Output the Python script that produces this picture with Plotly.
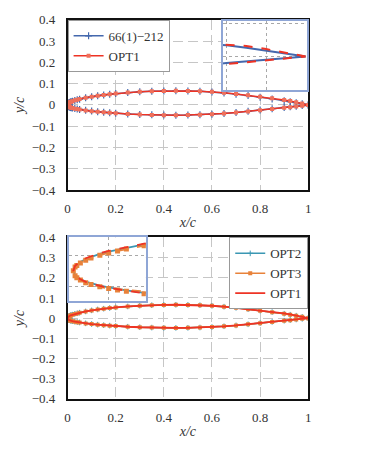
import plotly.graph_objects as go

# chord stations shared by all sections
X = [0, 0.0005, 0.001, 0.002, 0.0035, 0.005, 0.0075, 0.01, 0.0125, 0.015, 0.02,
     0.03, 0.04, 0.05, 0.075, 0.1, 0.125, 0.15, 0.175, 0.2, 0.25, 0.3, 0.35, 0.4,
     0.45, 0.5, 0.55, 0.6, 0.65, 0.7, 0.75, 0.8, 0.85, 0.9, 0.925, 0.95, 0.975, 1.0]

BASE_UP = [0, 0.0029, 0.0040, 0.0057, 0.0076, 0.0090, 0.0109, 0.0124, 0.0137, 0.0150, 0.0172,
           0.0209, 0.0241, 0.0270, 0.0333, 0.0386, 0.0431, 0.0470, 0.0503, 0.0533, 0.0581, 0.0617,
           0.0643, 0.0658, 0.0663, 0.0657, 0.0640, 0.0610, 0.0565, 0.0508, 0.0441, 0.0365, 0.0285,
           0.0200, 0.0155, 0.0107, 0.0056, 0]
BASE_LO = [0, -0.0027, -0.0038, -0.0053, -0.0070, -0.0082, -0.0097, -0.0108, -0.0119, -0.0128, -0.0144,
           -0.0171, -0.0193, -0.0212, -0.0255, -0.0290, -0.0321, -0.0346, -0.0369, -0.0389, -0.0423, -0.0449,
           -0.0467, -0.0478, -0.0481, -0.0477, -0.0462, -0.0436, -0.0400, -0.0356, -0.0300, -0.0240, -0.0178,
           -0.0116, -0.0086, -0.0057, -0.0028, 0]

OPT1_UP = [0, 0.0033, 0.0045, 0.0063, 0.0083, 0.0097, 0.0116, 0.0131, 0.0144, 0.0157, 0.0179,
           0.0215, 0.0246, 0.0274, 0.0336, 0.0388, 0.0432, 0.0471, 0.0504, 0.0534, 0.0582, 0.0618,
           0.0644, 0.0659, 0.0664, 0.0659, 0.0643, 0.0615, 0.0572, 0.0518, 0.0453, 0.0383, 0.0310,
           0.0235, 0.0185, 0.0130, 0.0070, 0]
OPT1_LO = [0, -0.0028, -0.0039, -0.0055, -0.0072, -0.0084, -0.0099, -0.0111, -0.0122, -0.0131, -0.0148,
           -0.0175, -0.0196, -0.0215, -0.0257, -0.0292, -0.0322, -0.0347, -0.0370, -0.0390, -0.0424, -0.0450,
           -0.0468, -0.0479, -0.0482, -0.0478, -0.0464, -0.0439, -0.0404, -0.0361, -0.0307, -0.0250, -0.0192,
           -0.0135, -0.0103, -0.0070, -0.0036, 0]

OPT2_UP = [0, 0.0030, 0.0041, 0.0059, 0.0078, 0.0092, 0.0111, 0.0126, 0.0139, 0.0152, 0.0174,
           0.0211, 0.0243, 0.0272, 0.0334, 0.0387, 0.0432, 0.0470, 0.0503, 0.0533, 0.0581, 0.0617,
           0.0643, 0.0658, 0.0663, 0.0658, 0.0641, 0.0612, 0.0568, 0.0513, 0.0447, 0.0375, 0.0300,
           0.0220, 0.0172, 0.0121, 0.0066, 0]
OPT2_LO = [0, -0.0027, -0.0038, -0.0054, -0.0071, -0.0083, -0.0098, -0.0109, -0.0120, -0.0129, -0.0145,
           -0.0172, -0.0194, -0.0213, -0.0256, -0.0291, -0.0321, -0.0346, -0.0369, -0.0389, -0.0423, -0.0449,
           -0.0467, -0.0478, -0.0481, -0.0477, -0.0463, -0.0438, -0.0402, -0.0359, -0.0304, -0.0246, -0.0186,
           -0.0127, -0.0096, -0.0065, -0.0033, 0]

OPT3_UP = [0, 0.0026, 0.0036, 0.0052, 0.0070, 0.0084, 0.0103, 0.0118, 0.0131, 0.0144, 0.0166,
           0.0204, 0.0237, 0.0266, 0.0330, 0.0384, 0.0430, 0.0469, 0.0502, 0.0532, 0.0580, 0.0616,
           0.0642, 0.0657, 0.0662, 0.0657, 0.0640, 0.0611, 0.0567, 0.0512, 0.0446, 0.0373, 0.0298,
           0.0218, 0.0170, 0.0119, 0.0065, 0]
OPT3_LO = [0, -0.0033, -0.0045, -0.0061, -0.0078, -0.0090, -0.0105, -0.0116, -0.0126, -0.0135, -0.0151,
           -0.0177, -0.0198, -0.0216, -0.0258, -0.0292, -0.0322, -0.0347, -0.0370, -0.0390, -0.0424, -0.0450,
           -0.0468, -0.0479, -0.0482, -0.0478, -0.0464, -0.0439, -0.0403, -0.0360, -0.0305, -0.0247, -0.0187,
           -0.0128, -0.0097, -0.0066, -0.0034, 0]

X_TICKS = [0, 0.2, 0.4, 0.6, 0.8, 1]
X_TICK_TEXT = ["0", "0.2", "0.4", "0.6", "0.8", "1"]
Y_TICKS = [-0.4, -0.3, -0.2, -0.1, 0, 0.1, 0.2, 0.3, 0.4]
Y_TICK_TEXT = ["−0.4", "−0.3", "−0.2", "−0.1", "0", "0.1", "0.2", "0.3", "0.4"]


def loop(up, lo):
    xs = list(reversed(X)) + X[1:]
    ys = list(reversed(up)) + lo[1:]
    return xs, ys


BLUE = "#4468ad"
RED = "#ee3324"
TEAL = "#3b97b3"
ORANGE = "#e8823a"
FONT = "Liberation Serif, Times New Roman, DejaVu Serif, serif"

fig = go.Figure()

# ---- top panel ----
bx, by = loop(BASE_UP, BASE_LO)
ox, oy = loop(OPT1_UP, OPT1_LO)
fig.add_trace(go.Scatter(x=bx, y=by, name="66(1)−212", mode="lines+markers",
                         line=dict(color=BLUE, width=1.5),
                         marker=dict(symbol="cross-thin", size=5, line=dict(color=BLUE, width=1.2)),
                         xaxis="x", yaxis="y", legend="legend"))
fig.add_trace(go.Scatter(x=ox, y=oy, name="OPT1", mode="lines+markers",
                         line=dict(color=RED, width=1.5),
                         marker=dict(symbol="square", size=4, color="#f0705a"),
                         xaxis="x", yaxis="y", legend="legend"))
# top inset (trailing edge)
fig.add_trace(go.Scatter(x=bx, y=by, mode="lines", showlegend=False,
                         line=dict(color=BLUE, width=2), xaxis="x3", yaxis="y3"))
fig.add_trace(go.Scatter(x=ox, y=oy, mode="lines", showlegend=False,
                         line=dict(color=RED, width=2, dash="dash"), xaxis="x3", yaxis="y3"))

# ---- bottom panel ----
p2x, p2y = loop(OPT2_UP, OPT2_LO)
p3x, p3y = loop(OPT3_UP, OPT3_LO)
fig.add_trace(go.Scatter(x=p2x, y=p2y, name="OPT2", mode="lines+markers",
                         line=dict(color=TEAL, width=1.5),
                         marker=dict(symbol="cross-thin", size=4, line=dict(color=TEAL, width=1)),
                         xaxis="x2", yaxis="y2", legend="legend2"))
fig.add_trace(go.Scatter(x=p3x, y=p3y, name="OPT3", mode="lines+markers",
                         line=dict(color=ORANGE, width=1.5),
                         marker=dict(symbol="square", size=4, color=ORANGE),
                         xaxis="x2", yaxis="y2", legend="legend2"))
fig.add_trace(go.Scatter(x=ox, y=oy, name="OPT1", mode="lines",
                         line=dict(color=RED, width=1.8),
                         xaxis="x2", yaxis="y2", legend="legend2"))
# bottom inset (leading edge)
fig.add_trace(go.Scatter(x=p2x, y=p2y, mode="lines", showlegend=False,
                         line=dict(color=TEAL, width=1.8), xaxis="x4", yaxis="y4"))
fig.add_trace(go.Scatter(x=p3x, y=p3y, mode="lines+markers", showlegend=False,
                         line=dict(color=ORANGE, width=1.8, dash="dash"),
                         marker=dict(symbol="square", size=5, color=ORANGE),
                         xaxis="x4", yaxis="y4"))
fig.add_trace(go.Scatter(x=ox, y=oy, mode="lines", showlegend=False,
                         line=dict(color=RED, width=1.8, dash="dash"), xaxis="x4", yaxis="y4"))

W, H = 380, 455
OFF = 8  # page body margin offset
def px(v): return (v - OFF) / W
def py(v): return 1 - (v - OFF) / H

main_x = dict(range=[0, 1], tickvals=X_TICKS, ticktext=X_TICK_TEXT,
              showgrid=True, gridcolor="#c6c6c6", griddash="10px,5px", gridwidth=1,
              zeroline=False, showline=True, linecolor="#111", linewidth=1.5, mirror=True,
              ticks="", ticklabelstandoff=6,
              tickfont=dict(family=FONT, size=13, color="#333"),
              title=dict(text="x/c", standoff=2, font=dict(family=FONT, size=14, style="italic", color="#333")))
main_y = dict(range=[-0.4, 0.4], tickvals=Y_TICKS, ticktext=Y_TICK_TEXT,
              showgrid=True, gridcolor="#c6c6c6", griddash="10px,5px", gridwidth=1,
              zeroline=False, showline=True, linecolor="#111", linewidth=1.5, mirror=True,
              ticks="", ticklabelstandoff=8,
              tickfont=dict(family=FONT, size=13, color="#333"),
              title=dict(text="y/c", standoff=4, font=dict(family=FONT, size=14, style="italic", color="#333")))

inset_common = dict(showticklabels=False, showgrid=True, gridcolor="#a8a8a8", griddash="dot",
                    gridwidth=1, zeroline=False, showline=True, linecolor="#8fa6d6",
                    linewidth=2, mirror=True, ticks="")

fig.update_layout(
    width=W, height=H, margin=dict(l=0, r=0, t=0, b=0),
    paper_bgcolor="white", plot_bgcolor="white",
    xaxis=dict(main_x, domain=[px(65.5), px(310)], anchor="y"),
    yaxis=dict(main_y, domain=[py(189), py(13)], anchor="x"),
    xaxis2=dict(main_x, domain=[px(65.5), px(310)], anchor="y2"),
    yaxis2=dict(main_y, domain=[py(405), py(238)], anchor="x2"),
    xaxis3=dict(inset_common, domain=[px(223), px(309)], anchor="y3",
                range=[0.895, 1.002], tickvals=[0.9, 0.95]),
    yaxis3=dict(inset_common, domain=[py(86), py(14)], anchor="x3",
                range=[-0.060, 0.063], tickvals=[0, 0.059]),
    xaxis4=dict(inset_common, domain=[px(67), px(145)], anchor="y4",
                range=[-0.0012, 0.0205], tickvals=[0.01]),
    yaxis4=dict(inset_common, domain=[py(304), py(238)], anchor="x4",
                range=[-0.02, 0.022], tickvals=[-0.01, 0.01]),
    legend=dict(x=px(65.5), y=py(13), xanchor="left", yanchor="top",
                bgcolor="white", bordercolor="#999", borderwidth=1,
                font=dict(family=FONT, size=13, color="#333"),
                itemwidth=30, tracegroupgap=0),
    legend2=dict(x=px(310), y=py(238), xanchor="right", yanchor="top",
                 bgcolor="white", bordercolor="#999", borderwidth=1,
                 font=dict(family=FONT, size=13, color="#333"),
                 itemwidth=30, tracegroupgap=0),
    showlegend=True,
)

fig.write_html("out.html")
